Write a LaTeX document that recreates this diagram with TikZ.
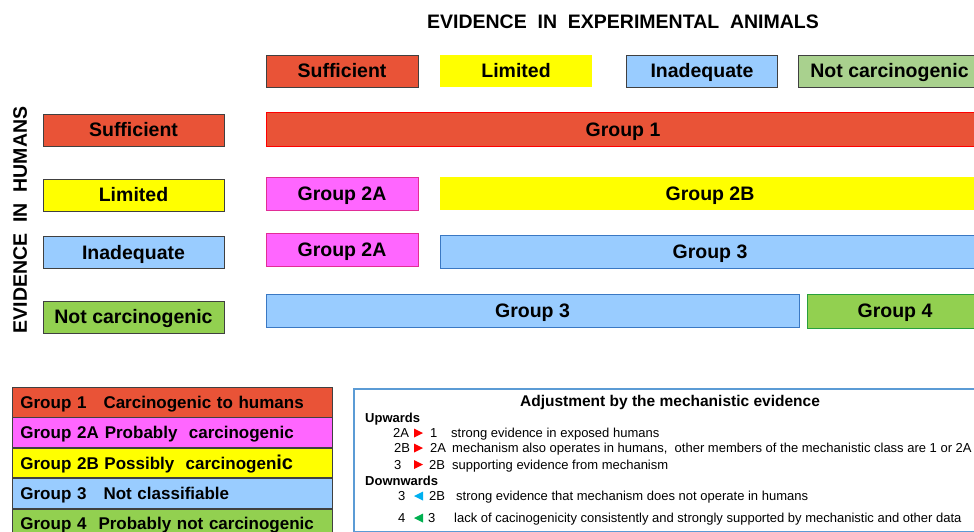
\documentclass[tikz,border=0pt]{standalone}
\usepackage{fontspec}
\setmainfont{Liberation Sans}
\usetikzlibrary{positioning}

\definecolor{cRed}{RGB}{233,83,55}
\definecolor{cYel}{RGB}{255,255,0}
\definecolor{cBlue}{RGB}{153,204,255}
\definecolor{cBlueD}{RGB}{58,120,195}
\definecolor{cPink}{RGB}{255,102,255}
\definecolor{cPinkD}{RGB}{225,45,150}
\definecolor{cGreen}{RGB}{146,208,80}
\definecolor{cGreenL}{RGB}{169,209,142}
\definecolor{cGreenD}{RGB}{40,160,60}
\definecolor{cGray}{RGB}{64,64,64}
\definecolor{cFrame}{RGB}{91,155,213}
\definecolor{cTriB}{RGB}{0,176,240}
\definecolor{cTriG}{RGB}{0,176,80}

\newcommand{\bigbf}{\fontsize{19.5}{22}\selectfont\bfseries}
\newcommand{\lgdbf}{\fontsize{17}{19}\selectfont\bfseries}
\newcommand{\adjbf}{\fontsize{15.5}{17}\selectfont\bfseries}
\newcommand{\adjtxt}{\fontsize{13}{15}\selectfont}

\tikzset{
  evbox/.style={rectangle, draw=cGray, line width=0.8pt, minimum height=32pt, inner sep=0pt,
    text height=17pt, text depth=4pt, font=\bigbf},
  grpbar/.style={rectangle, line width=1pt, minimum height=33pt, inner sep=0pt,
    text height=17pt, text depth=4pt, font=\bigbf},
  lgdrow/.style={rectangle, draw=cGray, line width=0.8pt, anchor=north west, minimum height=29.6pt,
    text width=304pt, inner xsep=8pt, inner ysep=0pt, text height=15pt, text depth=3pt,
    align=left, font=\lgdbf},
  adjtext/.style={anchor=west, inner sep=0pt, text height=9.4pt, text depth=0pt, font=\adjtxt},
}

\begin{document}
\begin{tikzpicture}[x=1pt, y=-1pt]
    \useasboundingbox (0,0) rectangle (974,532);
    \clip (0,0) rectangle (974,532);

    % Titoli degli assi
    \node[font=\bigbf, text height=14pt, text depth=0pt] (ttlAnim) at (623,22) {EVIDENCE\ \ IN\ \ EXPERIMENTAL\ \ ANIMALS};
    \node[font=\bigbf, text height=14pt, text depth=0pt, rotate=90] (ttlHum) at (20,220) {EVIDENCE\ \ IN\ \ HUMANS};

    % Evidenza negli animali (colonne)
    \foreach \n/\cx/\w/\fc/\dc/\t in {Suff/342/152/cRed/cGray/Sufficient,
        Lim/516/152/cYel/none/Limited, Inad/702/151/cBlue/cGray/Inadequate,
        Not/889.5/183/cGreenL/cGray/Not carcinogenic} {
        \node[evbox, fill=\fc, draw=\dc, minimum width=\w] (col\n) at (\cx,71) {\t};
    }

    % Evidenza negli umani (righe)
    \foreach \n/\cy/\fc/\t in {Suff/130.5/cRed/Sufficient, Lim/195/cYel/Limited,
        Inad/252.5/cBlue/Inadequate, Not/317/cGreen/Not carcinogenic} {
        \node[evbox, fill=\fc, minimum width=181] (row\n) at (133.5,\cy) {\t};
    }

    % Gruppi risultanti
    \node[grpbar, fill=cRed, draw=red, minimum width=714] (gOne) at (623,129.5) {Group 1};
    \node[grpbar, fill=cPink, draw=cPinkD, minimum width=152] (gTwoA) at (342,193.5) {Group 2A};
    \node[grpbar, fill=cYel, draw=none, minimum width=540] (gTwoB) at (710,193.5) {Group 2B};
    \node[grpbar, fill=cPink, draw=cPinkD, minimum width=152] (gTwoAi) at (342,250) {Group 2A};
    \node[grpbar, fill=cBlue, draw=cBlueD, minimum width=540] (gThree) at (710,252) {Group 3};
    \node[grpbar, fill=cBlue, draw=cBlueD, minimum width=533] (gThreeN) at (532.5,311) {Group 3};
    \node[grpbar, fill=cGreen, draw=cGreenD, minimum width=176, minimum height=34] (gFour) at (895,311) {Group 4};

    % Legenda dei gruppi
    \node[lgdrow, fill=cRed] (lgdOne) at (12,387) {Group 1\hspace{17pt}Carcinogenic to humans};
    \node[lgdrow, fill=cPink, below=0pt of lgdOne] (lgdTwoA) {Group 2A\hspace{6pt}Probably\ \ carcinogenic};
    \node[lgdrow, fill=cYel, below=0pt of lgdTwoA] (lgdTwoB) {Group 2B Possibly\ \ carcinogen{\fontsize{20}{20}\selectfont ic}};
    \node[lgdrow, fill=cBlue, below=0pt of lgdTwoB] (lgdThree) {Group 3\hspace{17pt}Not classifiable};
    \node[lgdrow, fill=cGreen, below=0pt of lgdThree] (lgdFour) {Group 4\hspace{12pt}Probably\ not carcinogenic};

    % Aggiustamento dovuto al meccanismo
    \node[draw=cFrame, line width=1.5pt, anchor=north west, minimum width=640, minimum height=143,
        inner sep=0pt] (adj) at (353,388) {};
    \node[font=\adjbf, text height=11pt, text depth=0pt] (adjTtl) at (670,400.5) {Adjustment by the mechanistic evidence};
    \node[adjtext, font=\adjtxt\bfseries] (adjUp) at (365,418) {Upwards};
    \node[adjtext, font=\adjtxt\bfseries] (adjDown) at (365,480.5) {Downwards};
    \foreach \n/\y/\xa/\a/\c/\p/\q/\xb/\b/\xt/\t in {
        u1/433/393/2A/red/423/414/430/1/451/{strong evidence in exposed humans},
        u2/448/394/2B/red/423/414/430/2A/452/{mechanism also operates in humans,\ \ other members of the mechanistic class are 1 or 2A},
        u3/464.5/394/3/red/423/414/429/2B/452/{supporting evidence from mechanism},
        d1/496/398/3/cTriB/414/423/429/2B/456/{strong evidence that mechanism does not operate in humans},
        d2/518/398/4/cTriG/414/423/428/3/454/{lack of cacinogenicity consistently and strongly supported by mechanistic and other data}} {
        \node[adjtext] (\n from) at (\xa,\y) {\a};
        \fill[\c] (\q,{\y-4.5}) -- (\p,\y) -- (\q,{\y+4.5}) -- cycle;
        \node[adjtext] (\n to) at (\xb,\y) {\b};
        \node[adjtext] (\n txt) at (\xt,\y) {\t};
    }
\end{tikzpicture}
\end{document}
